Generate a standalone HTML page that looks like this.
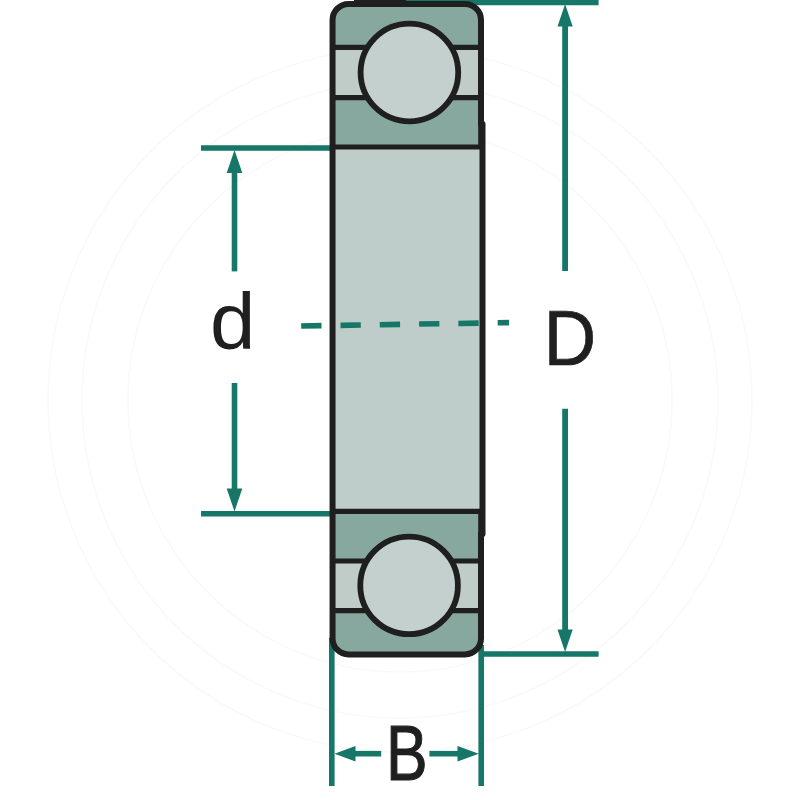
<!DOCTYPE html>
<html>
<head>
<meta charset="utf-8">
<title>Bearing dimensions</title>
<style>
  html, body { margin: 0; padding: 0; background: #ffffff; }
  body { width: 800px; height: 800px; overflow: hidden; }
  svg { display: block; }
  text { font-family: "Liberation Sans", sans-serif; fill: #1f1f1f; }
</style>
</head>
<body>
<svg width="800" height="800" viewBox="0 0 800 800">
  <rect x="0" y="0" width="800" height="800" fill="#ffffff"/>

  <!-- faint watermark -->
  <g fill="none" stroke="#f9f9f9" stroke-width="1.6">
    <circle cx="400" cy="400" r="352"/>
    <circle cx="400" cy="400" r="318"/>
    <circle cx="400" cy="400" r="272"/>
  </g>

  <!-- green extension lines (behind bearing) -->
  <g stroke="#167667" stroke-width="5.6" fill="none" stroke-linecap="butt">
    <line x1="406" y1="2.4" x2="598.6" y2="2.4"/>
    <line x1="480" y1="654" x2="598.6" y2="654"/>
    <line x1="201" y1="148" x2="332" y2="148"/>
    <line x1="201" y1="513.7" x2="332" y2="513.7"/>
    <line x1="331.8" y1="638" x2="331.8" y2="786"/>
    <line x1="481.2" y1="645" x2="481.2" y2="786"/>
  </g>

  <!-- bearing body -->
  <path id="body" d="M348.55,3.9 H465 A16,16 0 0 1 481,19.9 V124 H482.5 V534 H481 V638.4 A16,16 0 0 1 465,654.4 H348.55 A16,16 0 0 1 332.55,638.4 V19.9 A16,16 0 0 1 348.55,3.9 Z" fill="#87a89f"/>
  <!-- light panels -->
  <rect x="332" y="47.4" width="150" height="50.3" fill="#bfccc8"/>
  <rect x="332" y="147" width="151" height="364.3" fill="#becdc9"/>
  <rect x="332" y="561" width="150" height="49.6" fill="#bfccc8"/>

  <!-- inner lines -->
  <g stroke="#1f1f1f" stroke-width="5.2" fill="none">
    <line x1="332" y1="47.4" x2="481" y2="47.4"/>
    <line x1="332" y1="97.7" x2="481" y2="97.7"/>
    <line x1="332" y1="147" x2="482" y2="147"/>
    <line x1="332" y1="511.4" x2="482" y2="511.4"/>
    <line x1="332" y1="561" x2="481" y2="561"/>
    <line x1="332" y1="610.6" x2="481" y2="610.6"/>
  </g>

  <!-- balls -->
  <circle cx="409.4" cy="72.5" r="48.8" fill="#c3d0cd" stroke="#1f1f1f" stroke-width="5.8"/>
  <circle cx="409.1" cy="585.4" r="48.8" fill="#c3d0cd" stroke="#1f1f1f" stroke-width="5.8"/>

  <!-- outline -->
  <path d="M348.55,3.9 H465 A16,16 0 0 1 481,19.9 V124 H482.5 V534 H481 V638.4 A16,16 0 0 1 465,654.4 H348.55 A16,16 0 0 1 332.55,638.4 V19.9 A16,16 0 0 1 348.55,3.9 Z" fill="none" stroke="#1f1f1f" stroke-width="6" stroke-linejoin="round"/>
  <rect x="354" y="0" width="52" height="3" fill="#1f1f1f"/>
  <rect x="478.2" y="122" width="2.5" height="25" fill="#1f1f1f"/>
  <rect x="478.2" y="511" width="2.5" height="25" fill="#1f1f1f"/>

  <!-- centre dashed line -->
  <line x1="301.2" y1="326" x2="509" y2="322.6" stroke="#167667" stroke-width="5.6" stroke-dasharray="20.3 19"/>

  <!-- dimension d -->
  <g stroke="#167667" stroke-width="5.6" fill="none">
    <line x1="234.5" y1="170" x2="234.5" y2="271.4"/>
    <line x1="234.5" y1="383" x2="234.5" y2="492"/>
  </g>
  <g fill="#167667">
    <polygon points="234.5,150 242.3,173 226.7,173"/>
    <polygon points="234.5,511.5 242.3,488.6 226.7,488.6"/>
  </g>

  <!-- dimension D -->
  <g stroke="#167667" stroke-width="5.8" fill="none">
    <line x1="565.1" y1="24" x2="565.1" y2="271"/>
    <line x1="565.1" y1="408.8" x2="565.1" y2="632"/>
  </g>
  <g fill="#167667">
    <polygon points="565.1,4 572.7,26.4 557.5,26.4"/>
    <polygon points="565.1,652 572.7,629.4 557.5,629.4"/>
  </g>

  <!-- dimension B -->
  <g stroke="#167667" stroke-width="5.6" fill="none">
    <line x1="353" y1="753.7" x2="381.2" y2="753.7"/>
    <line x1="429.4" y1="753.7" x2="460" y2="753.7"/>
  </g>
  <g fill="#167667">
    <polygon points="334.5,753.7 355.5,746 355.5,761.4"/>
    <polygon points="478.8,753.7 457.5,746 457.5,761.4"/>
  </g>

  <!-- labels -->
  <text transform="translate(210,348.6) scale(1.02,1)" font-size="80">d</text>
  <text transform="translate(543.7,364.9) scale(0.94,1)" font-size="77.2" stroke="#1f1f1f" stroke-width="0.7" style="vector-effect:non-scaling-stroke">D</text>
  <text transform="translate(386,779.6) scale(0.81,1)" font-size="77" stroke="#1f1f1f" stroke-width="1" style="vector-effect:non-scaling-stroke">B</text>
</svg>
</body>
</html>
